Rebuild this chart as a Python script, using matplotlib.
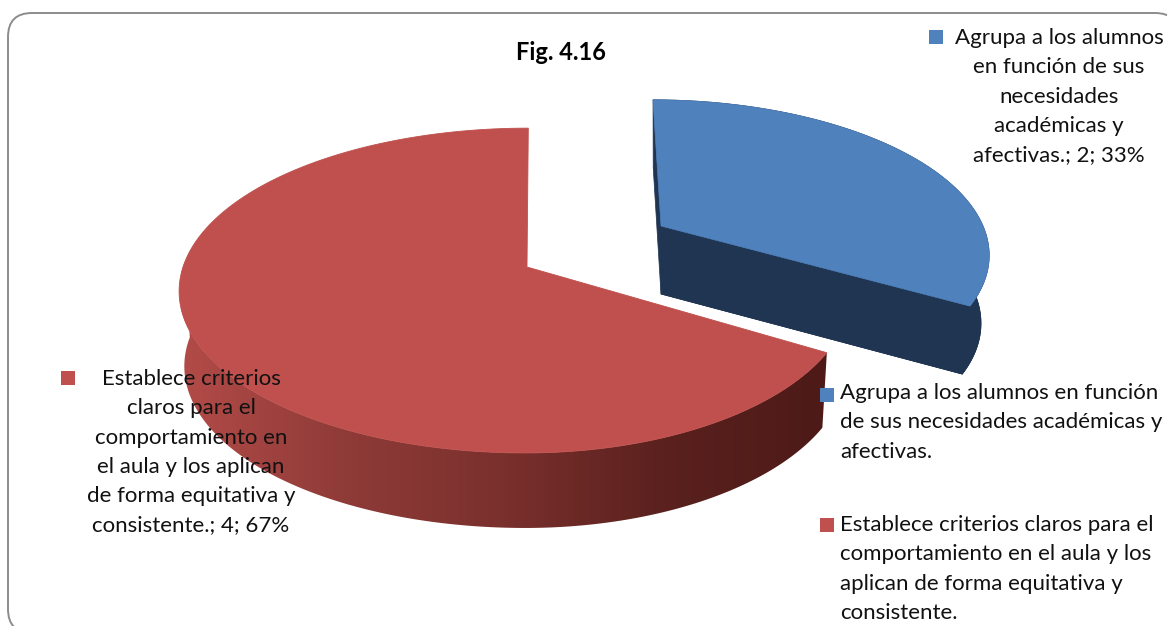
import numpy as np
from matplotlib import pyplot as plt
from matplotlib.patches import Polygon, FancyBboxPatch, Rectangle
from matplotlib.colors import LinearSegmentedColormap

plt.rcParams['font.family'] = ['Lato', 'DejaVu Sans']

# Datos
valores = [2, 4]
colores = ['#4F81BD', '#C0504D']

etiqueta_azul = ['Agrupa a los alumnos', 'en función de sus', 'necesidades', 'académicas y', 'afectivas.; 2; 33%']
etiqueta_roja = ['Establece criterios', 'claros para el', 'comportamiento en', 'el aula y los aplican', 'de forma equitativa y', 'consistente.; 4; 67%']
leyenda_azul = ['Agrupa a los alumnos en función', 'de sus necesidades académicas y', 'afectivas.']
leyenda_roja = ['Establece criterios claros para el', 'comportamiento en el aula y los', 'aplican de forma equitativa y', 'consistente.']

TAM = 16.0

fig = plt.figure(figsize=(11.67, 6.26), dpi=100)
ax = fig.add_axes([0, 0, 1, 1])

ax.add_patch(FancyBboxPatch((8, 13), 1171, 620, boxstyle='round,pad=0,rounding_size=24',
                            fc='white', ec='#8C8C8C', lw=1.4))


def borde(t, cx, cy, rxi, rxd, ry, k, cizalla):
    # punto del borde superior, t en grados desde atras en sentido horario
    t = np.radians(t)
    u = np.sin(t)
    v = -np.cos(t)
    s = 1 / (1 - k * v)
    rx = np.where(u < 0, rxi, rxd)
    return cx + rx * u * s + cizalla * v * s, cy + ry * v * s


fracciones = np.cumsum([0] + valores) / sum(valores) * 360

# rebanada roja
t = np.linspace(fracciones[1], fracciones[2], 300)
x, y = borde(t, 527, 267, 344, 322, 159, 0.145, -1.5)
xb = 527 + 0.985 * (x - 527)
yb = y + 75

mapa = LinearSegmentedColormap.from_list('pared', ['#B24B48', '#8F3B38', '#7A302D', '#5A211E', '#4D1A18'])
visible = t <= 272
xp = np.concatenate([x[visible], xb[visible][::-1]])
yp = np.concatenate([y[visible], yb[visible][::-1]])
pared = Polygon(np.column_stack([xp, yp]), closed=True, fc='none', ec='none')
ax.add_patch(pared)
grad = ax.imshow(np.linspace(0, 1, 256).reshape(1, -1), extent=(181, 827, 540, 250), cmap=mapa, aspect='auto', zorder=2)
grad.set_clip_path(pared)

ax.add_patch(Polygon(np.column_stack([np.r_[527, x], np.r_[267, y]]), closed=True, fc='#BF504D', ec='#BF504D', lw=0.6, zorder=3))

# rebanada azul
t = np.linspace(fracciones[0], fracciones[1], 200)
x, y = borde(t, 661, 226, 322, 322, 147, 0.165, 9.3)
xb = 661 + 0.975 * (x - 661)
yb = y + 68

oscuro = '#1F3552'
ax.add_patch(Polygon(np.column_stack([np.r_[661, xb], np.r_[294, yb]]), closed=True, fc=oscuro, ec=oscuro, lw=0.5, zorder=4))
ax.add_patch(Polygon(np.column_stack([np.r_[x, xb[::-1]], np.r_[y, yb[::-1]]]), closed=True, fc=oscuro, ec=oscuro, lw=0.5, zorder=4))
ax.add_patch(Polygon([(x[-1], y[-1]), (661, 226), (661, 294), (xb[-1], yb[-1])], closed=True, fc=oscuro, ec=oscuro, lw=0.5, zorder=4))
ax.add_patch(Polygon(np.column_stack([np.r_[661, x], np.r_[226, y]]), closed=True, fc=colores[0], ec=colores[0], lw=0.5, zorder=5))


def lineas(textos, xt, y0, paso, ha):
    for i, linea in enumerate(textos):
        ax.text(xt, y0 + i * paso, linea, ha=ha, va='center', fontsize=TAM, color='#111111', zorder=8)


def marca(x0, y0, color):
    ax.add_patch(Rectangle((x0, y0), 14, 14, fc=color, ec='none', zorder=8))


ax.text(561, 53, 'Fig. 4.16', ha='center', va='center', fontsize=17, fontweight='bold', color='black', zorder=8)

lineas(etiqueta_azul, 1059, 38, 29.3, 'center')
marca(929, 30, colores[0])
lineas(etiqueta_roja, 191, 379, 29.3, 'center')
marca(61, 371, colores[1])

lineas(leyenda_azul, 840, 393, 29.3, 'left')
marca(820, 388, colores[0])
lineas(leyenda_roja, 840, 525, 29.3, 'left')
marca(820, 518, colores[1])

ax.set_xlim(0, 1167)
ax.set_ylim(626, 0)
ax.axis('off')

fig.savefig('out.png', dpi=100)
